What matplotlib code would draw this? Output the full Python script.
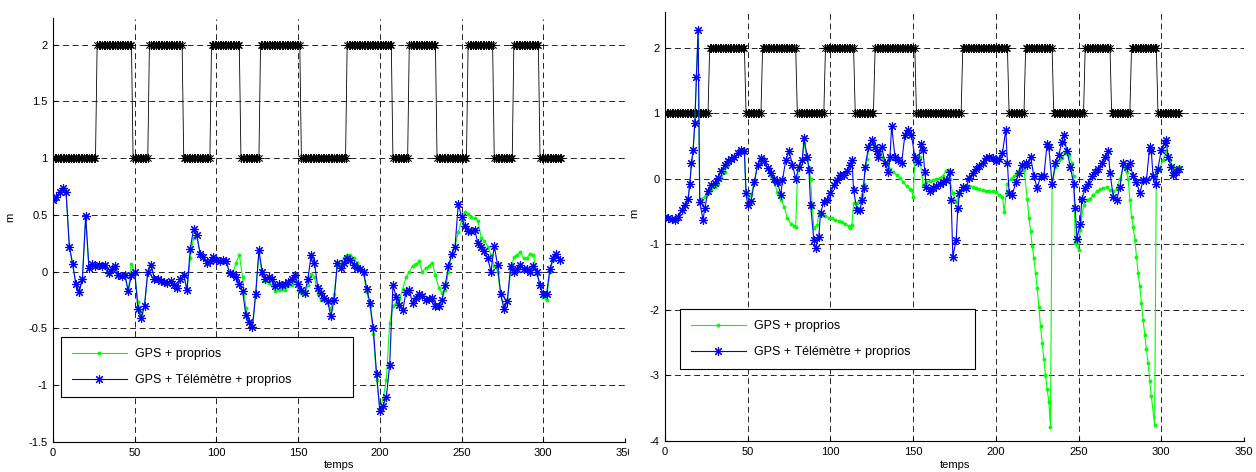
import numpy as np
import matplotlib
matplotlib.use("Agg")
import matplotlib.pyplot as plt
from matplotlib.patches import Rectangle

plt.rcParams['font.family'] = ['Liberation Sans', 'DejaVu Sans']

# ---------------- data ----------------
# mode (1 / 2) : levels and durations (in samples of 1 time unit), same for both panels
mode_levels = [1, 2, 1, 2, 1, 2, 1, 2, 1, 2, 1, 2, 1, 2, 1, 2, 1]
mode_durations = [27, 22, 10, 21, 17, 18, 12, 25, 28, 28, 10, 17, 19, 16, 12, 16, 14]

labels = ["GPS + proprios", "GPS + Télémètre + proprios"]

# left panel : values every 2 time units, t = 0 .. 310
left_t = list(range(0, 311, 2))
left_blue = [0.63, 0.66, 0.70, 0.74, 0.70, 0.22, 0.07, -0.11, -0.18, -0.06,
             0.49, 0.03, 0.07, 0.05, 0.06, 0.05, 0.06, -0.01, 0.02, 0.05,
             -0.03, -0.04, -0.03, -0.17, -0.03, 0.0, -0.33, -0.41, -0.30, 0.0,
             0.06, -0.06, -0.06, -0.08, -0.09, -0.10, -0.08, -0.12, -0.14, -0.06,
             -0.03, -0.16, 0.20, 0.38, 0.32, 0.16, 0.13, 0.08, 0.09, 0.13,
             0.10, 0.09, 0.10, 0.09, -0.01, -0.02, -0.05, -0.11, -0.17, -0.38,
             -0.44, -0.49, -0.20, 0.19, 0.0, -0.06, -0.05, -0.06, -0.13, -0.11,
             -0.12, -0.11, -0.09, -0.06, -0.03, -0.11, -0.16, -0.19, -0.06, 0.15,
             0.08, -0.14, -0.19, -0.23, -0.26, -0.39, -0.25, 0.08, 0.03, 0.08,
             0.12, 0.10, 0.06, 0.03, 0.02, 0.0, -0.15, -0.28, -0.50, -0.90,
             -1.23, -1.18, -1.10, -0.82, -0.12, -0.22, -0.29, -0.34, -0.18, -0.16,
             -0.28, -0.23, -0.20, -0.21, -0.25, -0.24, -0.23, -0.30, -0.30, -0.25,
             -0.12, 0.05, 0.16, 0.22, 0.60, 0.48, 0.40, 0.36, 0.36, 0.37,
             0.25, 0.22, 0.18, 0.12, 0.0, 0.23, 0.06, -0.20, -0.33, -0.26,
             0.05, 0.0, 0.02, 0.06, 0.02, 0.02, 0.0, 0.05, 0.0, -0.12,
             -0.20, -0.20, 0.02, 0.12, 0.16, 0.10]
left_green = [0.63, 0.66, 0.70, 0.74, 0.70, 0.22, 0.07, -0.11, -0.18, -0.06,
              0.49, 0.03, 0.07, 0.05, 0.06, 0.05, 0.06, -0.01, 0.02, 0.05,
              -0.03, -0.04, -0.03, -0.17, 0.07, -0.02, -0.27, -0.36, -0.30, 0.0,
              0.06, -0.06, -0.06, -0.08, -0.09, -0.10, -0.08, -0.12, -0.14, -0.06,
              -0.03, -0.16, 0.12, 0.30, 0.32, 0.16, 0.13, 0.08, 0.09, 0.13,
              0.10, 0.09, 0.10, 0.09, -0.01, -0.02, 0.08, 0.15, -0.05, -0.32,
              -0.44, -0.48, -0.20, 0.17, -0.03, -0.08, -0.10, -0.12, -0.17, -0.16,
              -0.15, -0.16, -0.13, -0.12, -0.08, -0.16, -0.19, -0.20, -0.12, -0.02,
              -0.05, -0.20, -0.25, -0.25, -0.27, -0.33, -0.20, 0.05, 0.06, 0.12,
              0.15, 0.15, 0.12, 0.08, 0.03, -0.02, -0.18, -0.30, -0.55, -0.95,
              -1.20, -1.12, -0.95, -0.45, -0.30, -0.28, -0.24, -0.15, -0.05, 0.0,
              0.05, 0.07, 0.09, 0.0, 0.03, 0.05, 0.08, -0.03, -0.14, -0.19,
              -0.16, 0.0, 0.15, 0.22, 0.35, 0.45, 0.53, 0.51, 0.48, 0.47,
              0.45, 0.30, 0.27, 0.22, 0.15, 0.05, 0.0, -0.20, -0.33, -0.25,
              0.0, 0.13, 0.15, 0.17, 0.12, 0.12, 0.16, 0.15, -0.02, -0.12,
              -0.22, -0.25, 0.0, 0.10, 0.15, 0.10]

# right panel
right_blue_t = [0, 2, 4, 6, 8, 10, 12, 14, 15, 16, 17, 18, 19, 20, 21, 23, 24, 26, 28, 30,
                32, 34, 36, 38, 40, 42, 44, 46, 48, 49, 50, 52, 54, 56, 58, 60, 62, 64, 66, 68,
                70, 71, 73, 75, 77, 79, 81, 83, 84, 86, 87, 88, 90, 91, 93, 94, 96, 98, 100, 102,
                104, 106, 108, 110, 112, 113, 114, 116, 118, 119, 120, 121, 123, 125, 127, 128, 129, 131, 133, 135,
                136, 137, 139, 141, 143, 145, 147, 149, 151, 153, 155, 156, 157, 158, 160, 162, 164, 166, 168, 170,
                172, 173, 174, 176, 177, 178, 180, 182, 184, 186, 188, 190, 192, 194, 196, 198, 200, 202, 204, 206,
                207, 208, 210, 212, 214, 216, 218, 219, 221, 223, 225, 227, 229, 231, 232, 234, 236, 238, 240, 241,
                243, 245, 247, 248, 249, 251, 252, 254, 256, 258, 260, 262, 264, 266, 268, 269, 271, 273, 275, 277,
                279, 281, 283, 285, 287, 289, 291, 293, 294, 295, 297, 298, 300, 302, 303, 304, 306, 307, 309, 311]
right_blue = [-0.58, -0.60, -0.61, -0.63, -0.58, -0.47, -0.40, -0.30, -0.07, 0.24, 0.44, 0.85, 1.56, 2.27, -0.35, -0.63, -0.45, -0.19, -0.09, -0.06,
              0.02, 0.12, 0.21, 0.27, 0.31, 0.34, 0.39, 0.45, 0.42, -0.22, -0.40, -0.33, -0.05, 0.22, 0.32, 0.28, 0.17, 0.09, 0.0, -0.05,
              -0.24, -0.02, 0.29, 0.42, 0.22, 0.0, 0.19, 0.29, 0.62, 0.34, 0.14, -0.40, -0.93, -1.06, -0.88, -0.52, -0.35, -0.32, -0.22, -0.09,
              -0.02, 0.06, 0.06, 0.12, 0.22, 0.29, -0.17, -0.47, -0.47, -0.32, -0.14, 0.19, 0.49, 0.60, 0.49, 0.42, 0.34, 0.49, 0.24, 0.11,
              0.34, 0.81, 0.34, 0.29, 0.24, 0.67, 0.75, 0.67, 0.34, 0.26, 0.54, 0.44, 0.11, -0.12, -0.19, -0.13, -0.10, -0.07, -0.05, -0.02,
              0.11, -0.32, -1.19, -0.93, -0.45, -0.22, -0.12, -0.14, 0.02, 0.09, 0.16, 0.20, 0.25, 0.32, 0.33, 0.32, 0.27, 0.30, 0.40, 0.75,
              0.24, -0.22, -0.24, -0.05, 0.09, 0.22, 0.24, 0.21, 0.34, 0.04, -0.14, 0.04, 0.04, 0.54, 0.49, -0.07, 0.24, 0.37, 0.57, 0.67,
              0.42, 0.19, -0.07, -0.45, -0.91, -0.68, -0.30, -0.14, -0.07, 0.04, 0.11, 0.16, 0.24, 0.34, 0.42, 0.09, -0.27, -0.32, -0.12, 0.24,
              0.19, 0.24, 0.04, -0.04, -0.22, -0.02, -0.02, 0.49, 0.42, 0.04, -0.07, 0.16, 0.44, 0.55, 0.60, 0.34, 0.19, 0.06, 0.11, 0.16]

right_green_t = [0, 2, 4, 6, 8, 10, 12, 14, 15, 16, 17, 18, 19, 20, 21, 22, 24, 26, 28, 30,
                 32, 34, 36, 38, 40, 42, 44, 46, 48, 49, 50, 52, 54, 56, 58, 60, 62, 64, 66, 68,
                 70, 72, 74, 76, 78, 79, 80, 81, 83, 84, 86, 87, 88, 89, 90, 92, 93, 95, 97, 99,
                 101, 103, 105, 107, 109, 111, 112, 113, 114, 116, 118, 119, 120, 122, 124, 126, 128, 130, 132, 134,
                 136, 138, 140, 142, 144, 146, 148, 149, 150, 151, 153, 154, 156, 158, 160, 162, 164, 166, 168, 170,
                 171, 172, 174, 176, 178, 180, 182, 184, 186, 188, 190, 192, 194, 196, 198, 200, 202, 204, 205, 207,
                 209, 211, 213, 215, 217, 219, 220, 221, 222, 223, 224, 225, 226, 227, 228, 229, 230, 231, 232, 233,
                 234, 236, 238, 240, 242, 244, 246, 247, 248, 250, 251, 253, 255, 257, 259, 261, 263, 265, 267, 269,
                 271, 273, 275, 277, 279, 280, 281, 282, 283, 284, 285, 286, 287, 288, 289, 290, 291, 292, 293, 294,
                 296, 297, 299, 301, 303, 305, 307, 309, 311]
right_green = [-0.58, -0.60, -0.61, -0.63, -0.58, -0.47, -0.40, -0.30, -0.07, 0.24, 0.44, 0.85, 1.56, 2.27, -0.32, -0.30, -0.27, -0.22, -0.17, -0.12,
               -0.07, 0.02, 0.11, 0.22, 0.29, 0.33, 0.38, 0.44, 0.40, -0.22, -0.27, -0.25, -0.05, 0.22, 0.30, 0.27, 0.17, 0.05, -0.05, -0.20,
               -0.32, -0.42, -0.60, -0.68, -0.72, -0.73, 0.0, 0.19, 0.29, 0.55, 0.30, 0.19, 0.0, -0.42, -0.75, -0.70, -0.52, -0.55, -0.57, -0.59,
               -0.60, -0.62, -0.64, -0.65, -0.68, -0.72, -0.75, -0.70, -0.37, -0.36, -0.34, -0.24, -0.08, 0.30, 0.54, 0.57, 0.42, 0.39, 0.32, 0.24,
               0.15, 0.10, 0.06, 0.02, -0.05, -0.11, -0.15, -0.17, -0.27, 0.29, 0.29, 0.34, -0.09, -0.04, -0.03, -0.02, 0.0, 0.01, 0.05, 0.12,
               0.14, 0.0, -0.22, -0.35, -0.22, -0.12, -0.09, -0.10, -0.12, -0.14, -0.15, -0.17, -0.18, -0.19, -0.19, -0.20, -0.24, -0.27, -0.50, -0.07,
               0.0, 0.04, 0.09, 0.19, 0.14, -0.30, -0.60, -0.80, -1.03, -1.21, -1.44, -1.67, -1.95, -2.25, -2.50, -2.75, -3.00, -3.20, -3.40, -3.78,
               -0.09, 0.18, 0.29, 0.32, 0.39, 0.37, 0.24, 0.04, -0.98, -1.08, -0.78, -0.40, -0.32, -0.30, -0.24, -0.19, -0.16, -0.14, -0.12, -0.17,
               -0.19, -0.15, 0.0, 0.19, 0.10, 0.0, -0.32, -0.58, -0.73, -0.93, -1.19, -1.44, -1.64, -1.90, -2.15, -2.38, -2.59, -2.81, -3.09, -3.32,
               -3.76, 0.14, 0.16, 0.29, 0.42, 0.29, 0.19, 0.16, 0.19]

left_yticks = [2, 1.5, 1, 0.5, 0, -0.5, -1, -1.5]
left_yticklabels = ["2", "1.5", "1", "0.5", "0", "-0.5", "-1", "-1.5"]
right_yticks = [2, 1, 0, -1, -2, -3, -4]
right_yticklabels = ["2", "1", "0", "-1", "-2", "-3", "-4"]
xticks = [0, 50, 100, 150, 200, 250, 300, 350]

# ---------------- figure ----------------
W, H = 1256, 472
fig = plt.figure(figsize=(W / 100, H / 100), dpi=100)
fig.patch.set_facecolor("white")

axL = fig.add_axes([53 / W, 30 / H, 572 / W, 423.5 / H], zorder=0)
axR = fig.add_axes([665 / W, 31 / H, 579 / W, 428.7 / H], zorder=2)

# hide the part of the left "350" label that sits under the right panel
fig.add_artist(Rectangle((629 / W, 0), 34 / W, 29 / H, transform=fig.transFigure,
                         facecolor="white", edgecolor="none", zorder=1))

mode_vals = np.repeat(mode_levels, mode_durations)
mode_t = np.arange(len(mode_vals))

star = (8, 2, 0)


def draw(ax, t_g, y_g, t_b, y_b, ylim, yticks, yticklabels, leg_anchor, ylab_xy, xlab_xy):
    ax.plot(mode_t, mode_vals, color="black", lw=0.6, marker=star, ms=6, mew=0.55, zorder=3)
    g, = ax.plot(t_g, y_g, color="#00ff00", lw=0.8, marker="o", ms=2.8, mew=0, zorder=4)
    b, = ax.plot(t_b, y_b, color="#0000ff", lw=0.8, marker=star, ms=6.5, mew=0.8, zorder=5)
    ax.set_xlim(0, 350)
    ax.set_ylim(*ylim)
    ax.set_xticks(xticks)
    ax.set_xticklabels([str(v) for v in xticks])
    ax.set_yticks(yticks)
    ax.set_yticklabels(yticklabels)
    ax.grid(True, color="black", linestyle=(0, (7, 4.5)), linewidth=0.6)
    ax.set_axisbelow(True)
    for s in ("top", "right"):
        ax.spines[s].set_visible(False)
    for s in ("left", "bottom"):
        ax.spines[s].set_linewidth(0.8)
    ax.tick_params(direction="in", length=3, labelsize=8, pad=4, colors="black")
    ax.set_ylabel("m", fontsize=8)
    ax.yaxis.set_label_coords(*ylab_xy)
    ax.set_xlabel("temps", fontsize=8)
    ax.xaxis.set_label_coords(*xlab_xy)
    leg = ax.legend([g, b], labels, loc="lower left", bbox_to_anchor=leg_anchor,
                    mode="expand", fancybox=False, framealpha=1, edgecolor="black",
                    handlelength=4.4, handletextpad=0.7, labelspacing=1.15,
                    borderpad=0.85, fontsize=9, numpoints=1, borderaxespad=0)
    leg.get_frame().set_linewidth(0.8)
    leg.set_zorder(10)


draw(axL, left_t, left_green, left_t, left_blue, (-1.5, 2.23), left_yticks, left_yticklabels,
     (0.014, 0.106, 0.511, 0.13), (-0.066, 0.53), (0.5, -0.043))
draw(axR, right_green_t, right_green, right_blue_t, right_blue, (-4, 2.545), right_yticks,
     right_yticklabels, (0.026, 0.168, 0.51, 0.13), (-0.044, 0.53), (0.5, -0.045))

fig.savefig("out.png", dpi=100, facecolor="white")
